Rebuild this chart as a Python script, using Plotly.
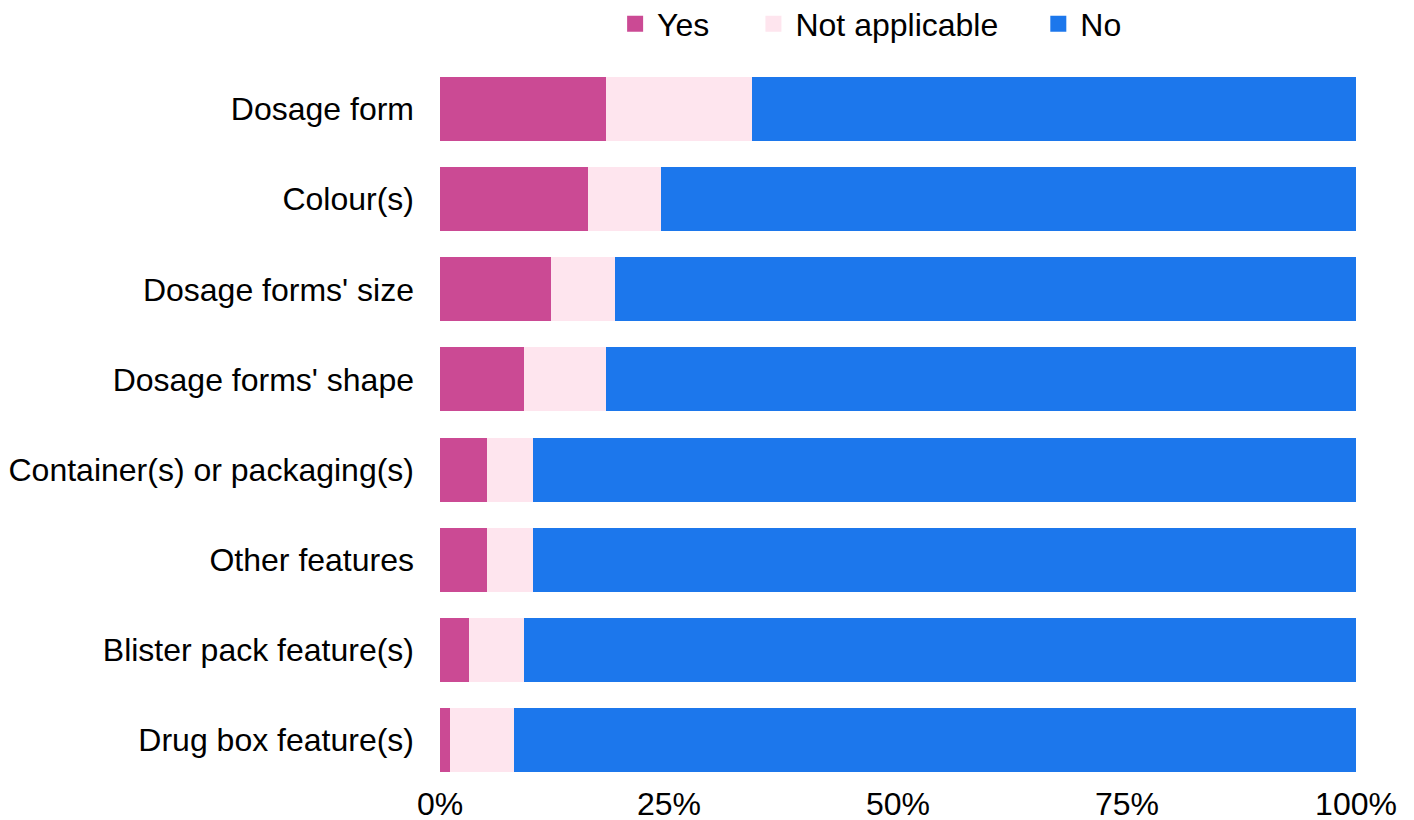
import plotly.graph_objects as go

categories = ["Dosage form", "Colour(s)", "Dosage forms' size", "Dosage forms' shape",
              "Container(s) or packaging(s)", "Other features", "Blister pack feature(s)",
              "Drug box feature(s)"]
yes_vals = [18.1, 16.2, 12.1, 9.2, 5.1, 5.1, 3.2, 1.1]
na_vals = [16.0, 7.9, 7.0, 8.9, 5.1, 5.1, 6.0, 7.0]
no_vals = [round(100 - y - n, 1) for y, n in zip(yes_vals, na_vals)]
tick_vals = [0, 25, 50, 75, 100]
tick_text = ["0%", "25%", "50%", "75%", "100%"]

series = [("Yes", yes_vals, "#CB4A94", "legend", 0.189),
          ("Not applicable", na_vals, "#FEE5EE", "legend2", 0.340),
          ("No", no_vals, "#1C77EC", "legend3", 0.651)]

FONT = "Liberation Sans, Arial, sans-serif"
FS = 32
fig = go.Figure()
for name, vals, col, lg, lx in series:
    fig.add_trace(go.Bar(y=categories, x=vals, name=name, orientation="h",
                         marker=dict(color=col, line=dict(width=0)), showlegend=False,
                         hovertemplate="%{y}: %{x}%<extra>" + name + "</extra>"))
    # legend proxy (no data drawn)
    fig.add_trace(go.Scatter(x=[None], y=[None], mode="markers", name=name, legend=lg,
                             marker=dict(symbol="square", size=16, color=col),
                             showlegend=True, hoverinfo="skip"))

legend_common = dict(orientation="h", yref="container", yanchor="middle", y=1 - 24 / 820,
                     xanchor="left", font=dict(size=FS, family=FONT),
                     bgcolor="rgba(0,0,0,0)", borderwidth=0, itemwidth=34)
layout_legends = {}
for name, vals, col, lg, lx in series:
    layout_legends[lg] = dict(legend_common, x=lx)

fig.update_layout(
    barmode="stack", bargap=0.29,
    width=1414, height=820,
    margin=dict(l=440, r=58, t=64, b=35),
    paper_bgcolor="white", plot_bgcolor="white",
    font=dict(family=FONT, size=FS, color="#000000"),
    xaxis=dict(range=[0, 100], tickvals=tick_vals, ticktext=tick_text, showgrid=False,
               zeroline=False, showline=False, ticks="", tickfont=dict(size=FS),
               ticklabelstandoff=-3, automargin=False),
    yaxis=dict(categoryorder="array", categoryarray=categories[::-1], showgrid=False,
               zeroline=False, showline=False, ticks="", ticklabelstandoff=25,
               tickfont=dict(size=FS), automargin=False),
    **layout_legends,
)
fig.write_html("out.html")
